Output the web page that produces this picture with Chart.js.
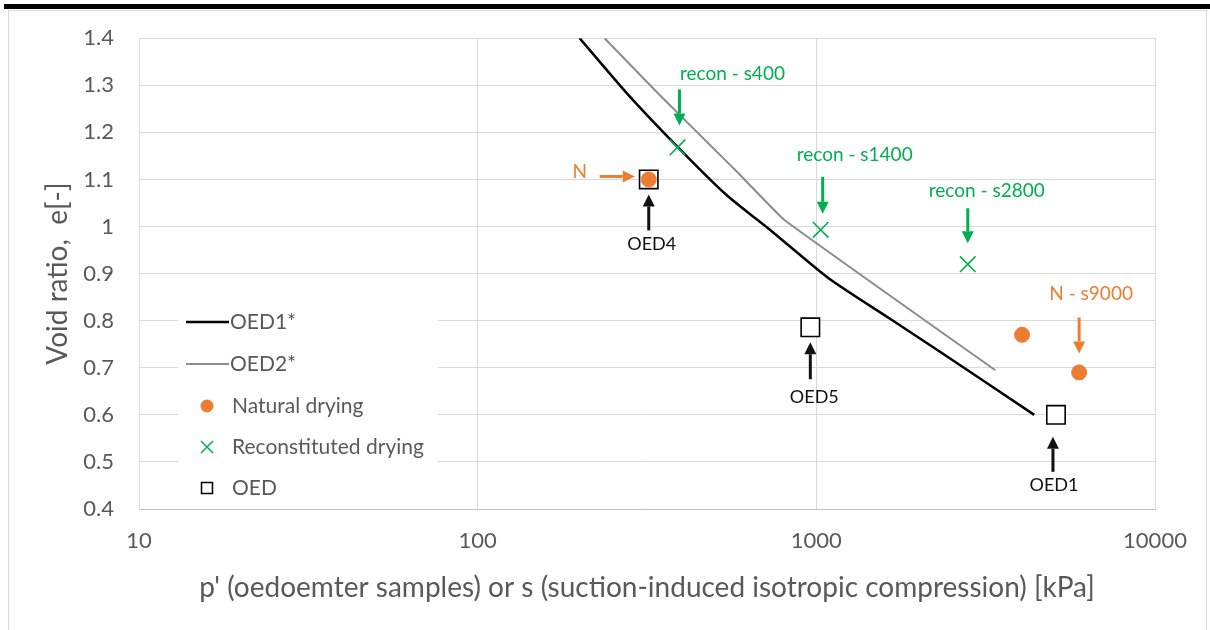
<!DOCTYPE html>
<html>
<head>
<meta charset="utf-8">
<script src="https://cdn.jsdelivr.net/npm/chart.js@4.4.0/dist/chart.umd.min.js"></script>
<style>
  html, body { margin: 0; padding: 0; background: #fff; }
  #wrap { width: 1210px; height: 630px; }
</style>
</head>
<body>
<div id="wrap"><canvas id="voidChart" width="1210" height="630"></canvas></div>
<script>
// OED compression curves
var oed1P = [200, 275, 386, 543, 741, 1092, 1642, 2306, 4400];
var oed1E = [1.40, 1.284, 1.172, 1.067, 0.989, 0.889, 0.805, 0.735, 0.60];
var oed2P = [237, 344, 487, 593, 805, 3373];
var oed2E = [1.40, 1.280, 1.172, 1.111, 1.014, 0.695];

// measured points
var naturalP = [320, 4050, 5970];
var naturalE = [1.10, 0.77, 0.69];
var reconP = [389, 1030, 2800];
var reconE = [1.168, 0.993, 0.920];
var oedP = [320, 960, 5100];
var oedE = [1.10, 0.786, 0.60];

var xTicks = [10, 100, 1000, 10000];
var yTicks = [0.4, 0.5, 0.6, 0.7, 0.8, 0.9, 1.0, 1.1, 1.2, 1.3, 1.4];

var seriesNames = ['OED1*', 'OED2*', 'Natural drying', 'Reconstituted drying', 'OED'];

// labels written next to the points
var noteTexts = ['recon - s400', 'recon - s1400', 'recon - s2800', 'N', 'OED4', 'OED5', 'OED1', 'N - s9000'];

var ORANGE = '#ED7D31';
var GREEN = '#00B050';
var FONT = 'Lato, "Open Sans", sans-serif';

function toPoints(xs, ys) {
    return xs.map(function(x, i) { return { x: x, y: ys[i] }; });
}

var notes = [
    { text: noteTexts[0], color: GREEN, at: [reconP[0], reconE[0]], dir: 'down', tx: 55, ty: -74, a0: -58, a1: -22, ax: 2 },
    { text: noteTexts[1], color: GREEN, at: [reconP[1], reconE[1]], dir: 'down', tx: 34, ty: -75, a0: -53, a1: -16, ax: 2 },
    { text: noteTexts[2], color: GREEN, at: [reconP[2], reconE[2]], dir: 'down', tx: 19, ty: -73, a0: -56, a1: -21, ax: 0 },
    { text: noteTexts[3], color: ORANGE, at: [oedP[0], oedE[0]], dir: 'right', tx: -69, ty: -8, a0: -49, a1: -14, ay: -3 },
    { text: noteTexts[4], color: '#111', at: [oedP[0], oedE[0]], dir: 'up', tx: 3, ty: 65, a0: 51, a1: 15, ax: 0 },
    { text: noteTexts[5], color: '#111', at: [oedP[1], oedE[1]], dir: 'up', tx: 4, ty: 70, a0: 52, a1: 15, ax: 0 },
    { text: noteTexts[6], color: '#111', at: [oedP[2], oedE[2]], dir: 'up', tx: -2, ty: 70, a0: 57, a1: 22, ax: -3 },
    { text: noteTexts[7], color: ORANGE, at: [naturalP[2], naturalE[2]], dir: 'down', tx: 12, ty: -79, a0: -55, a1: -19, ax: 0 }
];

function arrow(ctx, x0, y0, x1, y1, color) {
    var ang = Math.atan2(y1 - y0, x1 - x0);
    var head = 12, half = 6;
    var bx = x1 - Math.cos(ang) * head, by = y1 - Math.sin(ang) * head;
    ctx.strokeStyle = color;
    ctx.fillStyle = color;
    ctx.lineWidth = 3;
    ctx.beginPath();
    ctx.moveTo(x0, y0);
    ctx.lineTo(bx, by);
    ctx.stroke();
    ctx.beginPath();
    ctx.moveTo(x1, y1);
    ctx.lineTo(bx + Math.sin(ang) * half, by - Math.cos(ang) * half);
    ctx.lineTo(bx - Math.sin(ang) * half, by + Math.cos(ang) * half);
    ctx.closePath();
    ctx.fill();
}

var decorPlugin = {
    id: 'decor',
    beforeDraw: function(chart) {
        var ctx = chart.ctx;
        ctx.save();
        ctx.fillStyle = '#fff';
        ctx.fillRect(0, 0, chart.width, chart.height);
        ctx.strokeStyle = '#d9d9d9';
        ctx.lineWidth = 1;
        ctx.strokeRect(8.5, 10.5, 1198, 640);
        ctx.fillStyle = '#000';
        ctx.fillRect(4, 4, chart.width - 4, 5);
        ctx.restore();
    },
    beforeDatasetsDraw: function(chart) {
        var ctx = chart.ctx;
        ctx.save();
        // legend box inside plot
        ctx.fillStyle = '#fff';
        ctx.fillRect(178, 302, 260, 203);
        ctx.font = '21px ' + FONT;
        ctx.textBaseline = 'middle';
        ctx.textAlign = 'left';
        var rows = [322, 364, 406, 447, 488];
        ctx.lineWidth = 2.5;
        ctx.strokeStyle = '#000';
        ctx.beginPath(); ctx.moveTo(186, rows[0]); ctx.lineTo(229, rows[0]); ctx.stroke();
        ctx.lineWidth = 2;
        ctx.strokeStyle = '#8c8c8c';
        ctx.beginPath(); ctx.moveTo(186, rows[1]); ctx.lineTo(229, rows[1]); ctx.stroke();
        ctx.fillStyle = ORANGE;
        ctx.beginPath(); ctx.arc(207, rows[2], 6.5, 0, Math.PI * 2); ctx.fill();
        ctx.strokeStyle = GREEN;
        ctx.lineWidth = 1.5;
        ctx.beginPath();
        ctx.moveTo(201, rows[3] - 6); ctx.lineTo(213, rows[3] + 6);
        ctx.moveTo(213, rows[3] - 6); ctx.lineTo(201, rows[3] + 6);
        ctx.stroke();
        ctx.strokeStyle = '#000';
        ctx.lineWidth = 1.5;
        ctx.strokeRect(201.5, rows[4] - 5.5, 11, 11);
        ctx.fillStyle = '#595959';
        ctx.fillText(seriesNames[0], 230, rows[0]);
        ctx.fillText(seriesNames[1], 230, rows[1]);
        ctx.fillText(seriesNames[2], 232, rows[2]);
        ctx.fillText(seriesNames[3], 232, rows[3]);
        ctx.fillText(seriesNames[4], 232, rows[4]);

        // axis titles
        var area = chart.chartArea;
        ctx.font = '28px ' + FONT;
        ctx.textAlign = 'center';
        ctx.fillText("p' (oedoemter samples) or s (suction-induced isotropic compression) [kPa]", (area.left + area.right) / 2, 588);
        ctx.translate(58, (area.top + area.bottom) / 2);
        ctx.rotate(-Math.PI / 2);
        ctx.font = '28px ' + FONT;
        ctx.fillText('Void ratio,  e[-]', 0, 0);
        ctx.restore();
    },
    afterDatasetsDraw: function(chart) {
        var ctx = chart.ctx;
        var xs = chart.scales.x, ys = chart.scales.y;
        ctx.save();
        ctx.textAlign = 'center';
        ctx.textBaseline = 'middle';
        notes.forEach(function(n) {
            var px = xs.getPixelForValue(n.at[0]);
            var py = ys.getPixelForValue(n.at[1]);
            if (n.dir === 'right') {
                arrow(ctx, px + n.a0, py + n.ay, px + n.a1, py + n.ay, n.color);
            } else {
                arrow(ctx, px + n.ax, py + n.a0, px + n.ax, py + n.a1, n.color);
            }
            ctx.font = (n.color === '#111' ? '18px ' : '19px ') + FONT;
            ctx.fillStyle = n.color;
            ctx.fillText(n.text, px + n.tx, py + n.ty);
        });
        ctx.restore();
    }
};

var ctx = document.getElementById('voidChart');
var chart = new Chart(ctx, {
    type: 'scatter',
    data: {
        datasets: [{
            label: seriesNames[2],
            data: toPoints(naturalP, naturalE),
            pointStyle: 'circle',
            radius: 7.5,
            backgroundColor: ORANGE,
            borderColor: ORANGE,
            borderWidth: 1
        }, {
            label: seriesNames[3],
            data: toPoints(reconP, reconE),
            pointStyle: 'crossRot',
            radius: 11,
            borderColor: GREEN,
            borderWidth: 1.6
        }, {
            label: seriesNames[4],
            data: toPoints(oedP, oedE),
            pointStyle: 'rect',
            radius: 13,
            backgroundColor: '#fff',
            borderColor: '#000',
            borderWidth: 1.6
        }, {
            label: seriesNames[0],
            data: toPoints(oed1P, oed1E),
            showLine: true,
            borderColor: '#000',
            borderWidth: 2.5,
            pointRadius: 0,
            tension: 0.2
        }, {
            label: seriesNames[1],
            data: toPoints(oed2P, oed2E),
            showLine: true,
            borderColor: '#8c8c8c',
            borderWidth: 2,
            pointRadius: 0,
            tension: 0.1
        }]
    },
    options: {
        responsive: false,
        animation: false,
        clip: { left: 0, top: 0, right: 0, bottom: 0 },
        layout: { padding: { left: 0, right: 55, top: 35, bottom: 0 } },
        plugins: {
            legend: { display: false },
            tooltip: { enabled: false }
        },
        scales: {
            x: {
                type: 'logarithmic',
                min: 10,
                max: 10000,
                afterBuildTicks: function(scale) {
                    scale.ticks = xTicks.map(function(v) { return { value: v }; });
                },
                afterFit: function(scale) { scale.height = 121; },
                grid: { color: '#d9d9d9', drawTicks: false },
                border: { color: '#bfbfbf' },
                ticks: {
                    color: '#595959',
                    font: { family: FONT, size: 22 },
                    padding: 19,
                    maxRotation: 0,
                    callback: function(v) { return String(v); }
                }
            },
            y: {
                type: 'linear',
                min: 0.4,
                max: 1.4,
                afterBuildTicks: function(scale) {
                    scale.ticks = yTicks.map(function(v) { return { value: v }; });
                },
                afterFit: function(scale) { scale.width = 139; },
                grid: { color: '#d9d9d9', drawTicks: false },
                border: { color: '#d9d9d9' },
                ticks: {
                    color: '#595959',
                    font: { family: FONT, size: 22 },
                    padding: 25,
                    callback: function(v) { return String(Number(v.toFixed(1))); }
                }
            }
        }
    },
    plugins: [decorPlugin]
});
</script>
</body>
</html>
